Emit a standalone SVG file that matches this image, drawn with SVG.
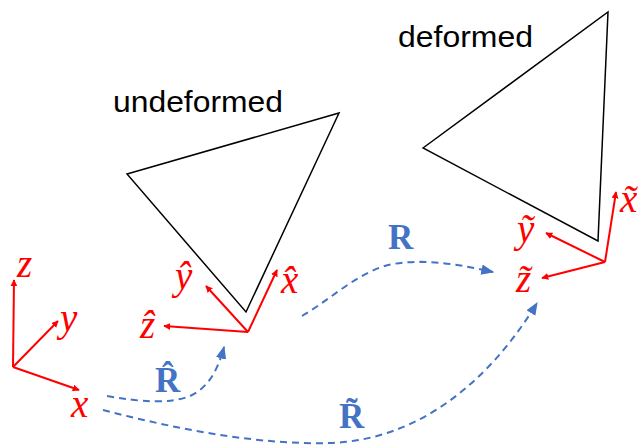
<svg xmlns="http://www.w3.org/2000/svg" width="644" height="446" viewBox="0 0 644 446">
<style>
.tri{fill:none;stroke:#000;stroke-width:1.5}
.ax{stroke:#ff0000;stroke-width:2;fill:none;marker-end:url(#ra)}
.lab{font-family:"Liberation Serif","DejaVu Serif",serif;font-style:italic;fill:#ff0000;font-size:39px}
.dash{stroke:#4472c4;stroke-width:2;fill:none;stroke-dasharray:7,5;marker-end:url(#ba)}
.bl{font-family:"Liberation Serif","DejaVu Serif",serif;font-weight:bold;fill:#4472c4;font-size:35px}
.txt{font-family:"Liberation Sans","Open Sans",sans-serif;fill:#000;font-size:30px}
</style>
<defs>
<marker id="ra" viewBox="0 0 10 10" refX="9" refY="5" markerWidth="7" markerHeight="7" orient="auto" markerUnits="userSpaceOnUse"><path d="M0,0L10,5L0,10z" fill="#ff0000"/></marker>
<marker id="ba" viewBox="0 0 10 10" refX="9" refY="5" markerWidth="13" markerHeight="13" orient="auto" markerUnits="userSpaceOnUse"><path d="M0,1L10,5L0,9z" fill="#4472c4"/></marker>
</defs>
<g id="undeformed">
<polygon class="tri" points="127,174 339,113 246,312"/>
<text class="txt" x="113" y="112" textLength="170" lengthAdjust="spacingAndGlyphs">undeformed</text>
</g>
<g id="deformed">
<polygon class="tri" points="423,148 608,12 598,241"/>
<text class="txt" x="398" y="47" textLength="135" lengthAdjust="spacingAndGlyphs">deformed</text>
</g>
<g id="frame-lab">
<line class="ax" x1="13" y1="367" x2="14" y2="280"/>
<line class="ax" x1="13" y1="367" x2="58" y2="321"/>
<line class="ax" x1="13" y1="367" x2="79" y2="390"/>
<text class="lab" x="17" y="277">z</text>
<text class="lab" x="60" y="331">y</text>
<text class="lab" x="71" y="417">x</text>
</g>
<g id="frame-undeformed">
<line class="ax" x1="248" y1="332" x2="277" y2="270"/>
<line class="ax" x1="248" y1="332" x2="206" y2="286"/>
<line class="ax" x1="248" y1="332" x2="164" y2="326"/>
<text class="lab" x="281" y="293">x̂</text>
<text class="lab" x="175" y="289">ŷ</text>
<text class="lab" x="140" y="338">ẑ</text>
</g>
<g id="frame-deformed">
<line class="ax" x1="605" y1="262" x2="616" y2="192"/>
<line class="ax" x1="605" y1="262" x2="546" y2="233"/>
<line class="ax" x1="605" y1="262" x2="542" y2="278"/>
<text class="lab" x="620" y="212">x̃</text>
<text class="lab" x="517" y="242">ỹ</text>
<text class="lab" x="516" y="292">z̃</text>
</g>
<g id="connectors">
<path class="dash" d="M107,396 C140,402 170,404 190,396 C208,388 218,370 224,347"/>
<path class="dash" d="M302,316 C330,300 360,270 393,264 C430,258 465,266 493,272"/>
<path class="dash" d="M103,410 C180,430 260,445 330,443 C420,440 490,380 537,303"/>
<text class="bl" x="155" y="392">R̂</text>
<text class="bl" x="388" y="249">R</text>
<text class="bl" x="339" y="428" font-size="37">R̃</text>
</g>
</svg>
